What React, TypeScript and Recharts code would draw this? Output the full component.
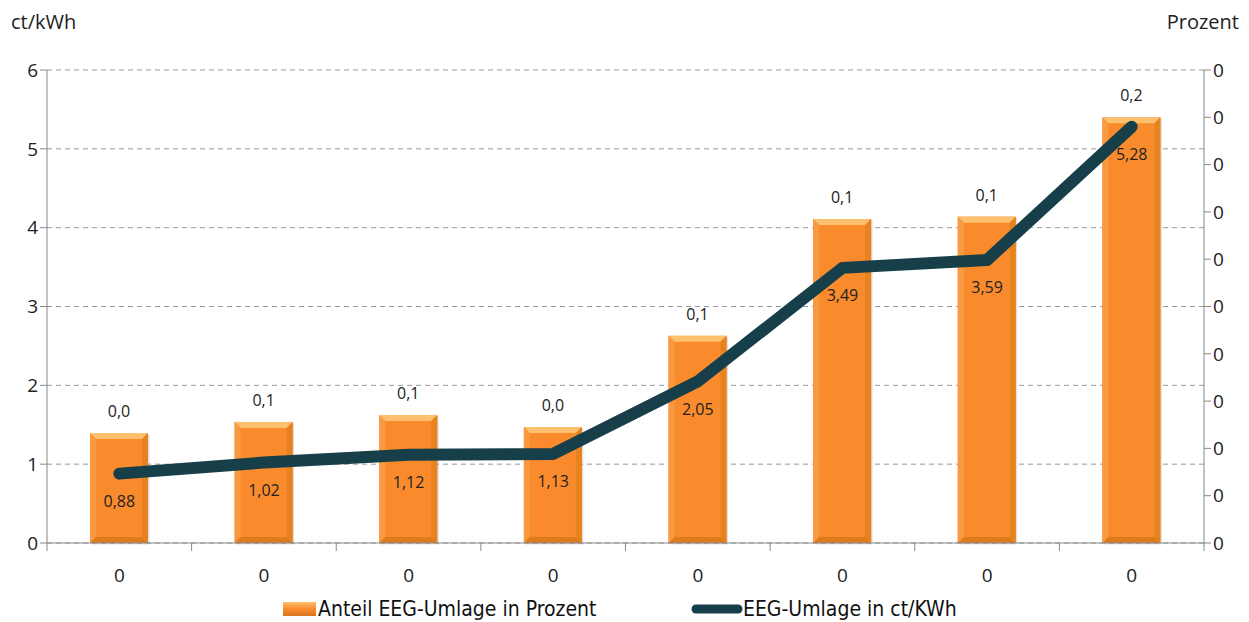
import React from 'react';
import {
  ComposedChart, Bar, Line, XAxis, YAxis, CartesianGrid, LabelList,
} from 'recharts';

const categories = ['0', '0', '0', '0', '0', '0', '0', '0'];
const anteilProzent = [0.0465, 0.0512, 0.0541, 0.049, 0.0876, 0.137, 0.138, 0.18];
const umlageCt = [0.88, 1.02, 1.12, 1.13, 2.05, 3.49, 3.59, 5.28];
const leftTicks = [0, 1, 2, 3, 4, 5, 6];
const rightTicks = [0, 0.02, 0.04, 0.06, 0.08, 0.1, 0.12, 0.14, 0.16, 0.18, 0.2];

const data = categories.map((c, i) => ({
  name: c,
  idx: i,
  anteil: anteilProzent[i],
  umlage: umlageCt[i],
}));

const ORANGE = '#F98B2D';
const LINE = '#173F4A';
const FONT = '"Open Sans", "DejaVu Sans", sans-serif';
const NARROW = '"Liberation Sans Narrow", "DejaVu Sans Condensed", sans-serif';

const comma = (v: number, d: number) => v.toFixed(d).replace('.', ',');

function BevelBar(props: any) {
  const { x, y, width, height } = props;
  if (!height || height <= 0) return null;
  const b = 6;
  return (
    <g>
      <rect x={x + 1.5} y={y + 1.5} width={width} height={height} fill="#000" opacity={0.12} />
      <rect x={x} y={y} width={width} height={height} fill={ORANGE} />
      <polygon
        points={`${x},${y} ${x + width},${y} ${x + width - b},${y + b} ${x + b},${y + b}`}
        fill="#FCC06E"
      />
      <polygon
        points={`${x},${y} ${x + b},${y + b} ${x + b},${y + height - b} ${x},${y + height}`}
        fill="#F99A40"
      />
      <polygon
        points={`${x + width},${y} ${x + width - b},${y + b} ${x + width - b},${y + height - b} ${x + width},${y + height}`}
        fill="#E8821F"
      />
      <polygon
        points={`${x},${y + height} ${x + b},${y + height - b} ${x + width - b},${y + height - b} ${x + width},${y + height}`}
        fill="#DD7A1E"
      />
    </g>
  );
}

function XTick(props: any) {
  const { x, y, payload, index } = props;
  const half = 72.3;
  return (
    <g>
      <line x1={x + half} y1={y - 8} x2={x + half} y2={y} stroke="#888" />
      {index === 0 && <line x1={x - half} y1={y - 8} x2={x - half} y2={y} stroke="#888" />}
      <text x={x} y={y + 31} textAnchor="middle" fontSize={19} fill="#222" fontFamily={FONT}>
        {categories[payload.value]}
      </text>
    </g>
  );
}

function LegendBlock() {
  return (
    <svg width={1249} height={28} style={{ position: 'absolute', left: 0, top: 594 }}>
      <defs>
        <linearGradient id="legOrange" x1="0" y1="0" x2="0" y2="1">
          <stop offset="0" stopColor="#FCC06E" />
          <stop offset="0.5" stopColor={ORANGE} />
          <stop offset="1" stopColor="#D9731E" />
        </linearGradient>
      </defs>
      <rect x={283} y={8} width={33} height={14} fill="url(#legOrange)" />
      <text x={318} y={22} fontFamily={NARROW} fontSize={21} fill="#111">Anteil EEG-Umlage in Prozent</text>
      <line x1={696} y1={15} x2={738} y2={15} stroke={LINE} strokeWidth={9} strokeLinecap="round" />
      <text x={743} y={22} fontFamily={NARROW} fontSize={21} fill="#111">EEG-Umlage in ct/KWh</text>
    </svg>
  );
}

export default function App() {
  return (
    <div style={{ position: 'absolute', left: 0, top: 0, width: 1249, height: 622, background: '#fff' }}>
      <div style={{ position: 'absolute', left: 11, top: 8, fontFamily: FONT, fontSize: 20, color: '#222' }}>ct/kWh</div>
      <div style={{ position: 'absolute', right: 10, top: 8, fontFamily: FONT, fontSize: 20, color: '#222' }}>Prozent</div>
      <ComposedChart
        width={1249}
        height={622}
        data={data}
        margin={{ top: 70, right: 0, left: 0, bottom: 0 }}
      >
        <CartesianGrid yAxisId="left" vertical={false} stroke="#999" strokeDasharray="5 4" />
        <XAxis
          dataKey="idx"
          height={79}
          axisLine={{ stroke: '#888' }}
          tickLine={false}
          tick={<XTick />}
          interval={0}
        />
        <YAxis
          yAxisId="left"
          orientation="left"
          width={47}
          domain={[0, 6]}
          ticks={leftTicks}
          interval={0}
          axisLine={{ stroke: '#888' }}
          tickLine={{ stroke: '#888' }}
          tickSize={7}
          tick={{ fontSize: 19, fill: '#222', fontFamily: FONT }}
        />
        <YAxis
          yAxisId="right"
          orientation="right"
          width={45}
          domain={[0, 0.2]}
          ticks={rightTicks}
          interval={0}
          axisLine={{ stroke: '#888' }}
          tickLine={{ stroke: '#888' }}
          tickSize={7}
          tickFormatter={(v: number) => Math.round(v).toString()}
          tick={{ fontSize: 19, fill: '#222', fontFamily: FONT }}
        />
        <Bar
          yAxisId="right"
          dataKey="anteil"
          barSize={58}
          shape={<BevelBar />}
          isAnimationActive={false}
        >
          <LabelList
            dataKey="anteil"
            position="top"
            offset={16}
            formatter={(v: number) => comma(v, 1)}
            style={{ fontSize: 16, fill: '#222', fontFamily: FONT }}
          />
        </Bar>
        <Line
          yAxisId="left"
          dataKey="umlage"
          type="linear"
          stroke={LINE}
          strokeWidth={12}
          strokeLinecap="round"
          strokeLinejoin="round"
          dot={false}
          activeDot={false}
          isAnimationActive={false}
        >
          <LabelList
            dataKey="umlage"
            position="bottom"
            offset={22}
            formatter={(v: number) => comma(v, 2)}
            style={{ fontSize: 16, fill: '#222', fontFamily: FONT }}
          />
        </Line>
      </ComposedChart>
      <LegendBlock />
    </div>
  );
}
